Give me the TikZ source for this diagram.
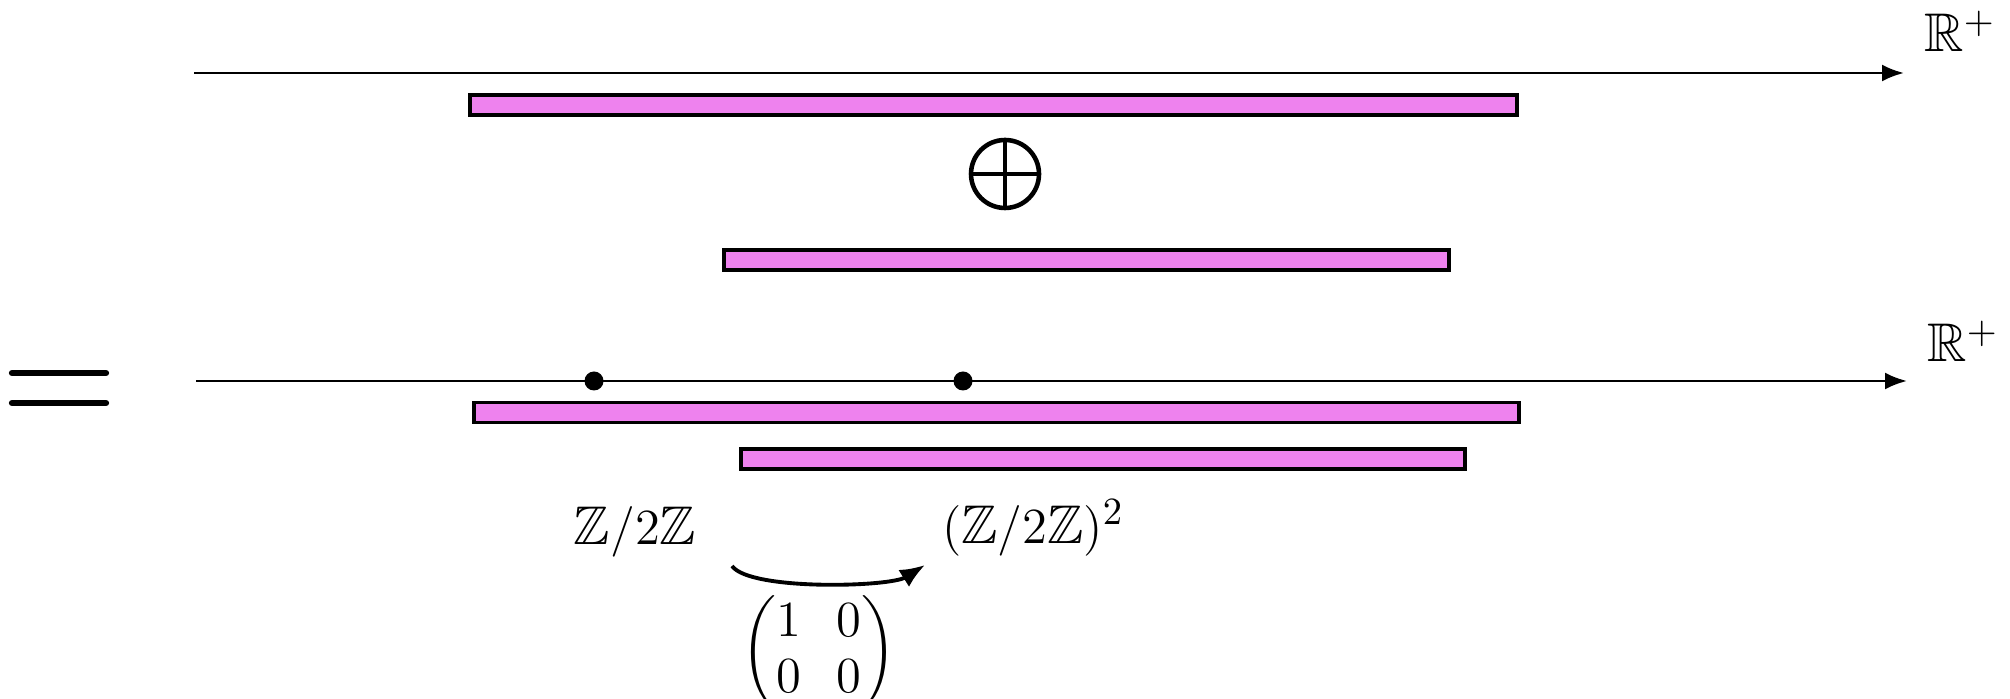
\documentclass[tikz,border=0pt]{standalone}
\usepackage{amsmath,amssymb}
\usepackage{xcolor}
\definecolor{barpink}{HTML}{EE82EE}
\usepackage{tikz}
\usetikzlibrary{arrows.meta,positioning}

\begin{document}
\begin{tikzpicture}[font=\fontsize{15.5}{18}\selectfont,
  axis/.style={line width=0.8pt, -{Latex[length=2.2mm,width=1.7mm]}},
  bar/.style={rectangle, draw, line width=1pt, fill=barpink, minimum height=0.2cm, inner sep=0pt},
  pt/.style={circle, fill, inner sep=0pt, minimum size=0.19cm}]
  \useasboundingbox (0,0) rectangle (20.1,6.99);

  % upper line
  \coordinate (topstart) at (1.94,6.26);
  \coordinate (topend) at (19.04,6.26);
  \draw[axis] (topstart) -- (topend);
  \node at (19.6,6.68) (toplabel) {$\mathbb{R}^+$};
  \node[bar, minimum width=10.47cm] at (9.935,5.94) (bara) {};
  \node[circle, draw, line width=1.3pt, minimum size=0.68cm, inner sep=0pt] at (10.05,5.25) (plus) {};
  \draw[line width=1.3pt] (plus.north) -- (plus.south) (plus.west) -- (plus.east);
  \node[bar, minimum width=7.25cm] at (10.865,4.39) (barb) {};

  % equals
  \draw[line width=1.8pt, line cap=round] (0.12,3.26) -- (1.06,3.26) (0.12,2.96) -- (1.06,2.96);

  % lower line
  \coordinate (botstart) at (1.96,3.18);
  \coordinate (botend) at (19.07,3.18);
  \draw[axis] (botstart) -- (botend);
  \node at (19.63,3.58) (botlabel) {$\mathbb{R}^+$};
  \node[pt] at (5.94,3.18) (pa) {};
  \node[pt] at (9.63,3.18) (pb) {};
  \node[bar, minimum width=10.45cm] at (9.965,2.865) (barc) {};
  \node[bar, minimum width=7.24cm] at (11.03,2.40) (bard) {};

  % map
  \node at (6.35,1.67) (zz) {$\mathbb{Z}/2\mathbb{Z}$};
  \node at (10.33,1.71) (zzsq) {$(\mathbb{Z}/2\mathbb{Z})^2$};
  \coordinate (mapstart) at (7.32,1.33);
  \coordinate (mapend) at (9.25,1.34);
  \draw[line width=1.1pt, -{Latex[length=2.5mm,width=2mm]}] (mapstart) .. controls (7.5,1.08) and (8.9,1.12) .. (mapend);
  \node[font=\fontsize{13.5}{16}\selectfont] at (8.19,0.46) (mat) {$\begin{pmatrix}1&0\\0&0\end{pmatrix}$};
\end{tikzpicture}
\end{document}
